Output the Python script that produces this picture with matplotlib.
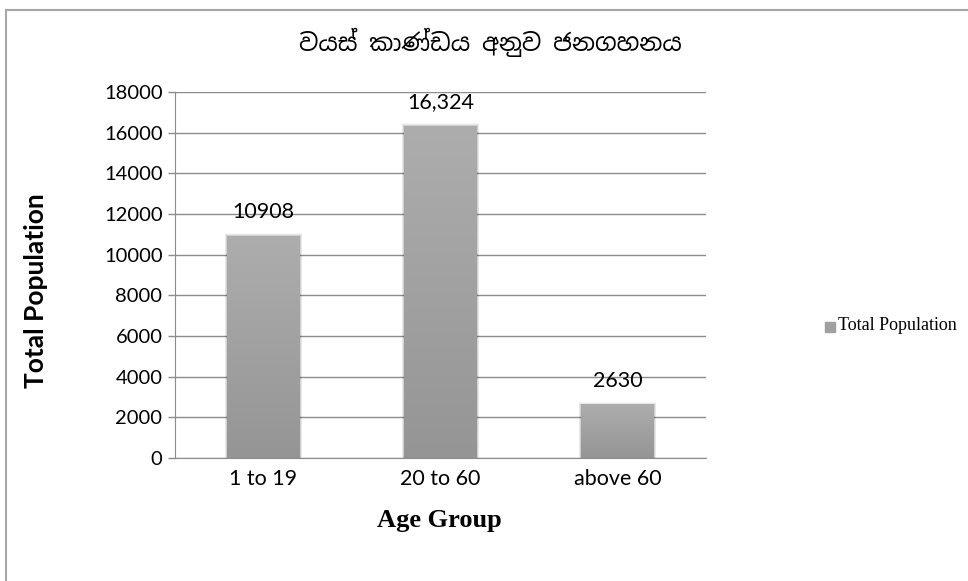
import numpy as np
import matplotlib
matplotlib.use('Agg')
import matplotlib.pyplot as plt
from matplotlib import font_manager
from matplotlib.patches import Rectangle
from matplotlib.colors import LinearSegmentedColormap

categories = ['1 to 19', '20 to 60', 'above 60']
population = [10908, 16324, 2630]
bar_labels = ['10908', '16,324', '2630']
title = 'වයස් කාණ්ඩය අනුව ජනගහනය'

sinhala = [f.name for f in font_manager.fontManager.ttflist if 'Sinhala' in f.name]
title_family = sinhala[:1] + ['DejaVu Sans']

fig = plt.figure(figsize=(9.68, 5.81), dpi=100)
ax = fig.add_axes([175 / 968, 1 - 458 / 581, 531 / 968, 366 / 581])

x = np.arange(len(categories))
width = 0.41
bars = ax.bar(x, population, width=width, color='none', zorder=3)

# vertical gradient fill, light on top, soft shadow round it
grad = np.linspace(0, 1, 256).reshape(-1, 1)
cmap = LinearSegmentedColormap.from_list('g', ['#959595', '#adadad'])
for b in bars:
    x0, y0 = b.get_x(), b.get_y()
    w, h = b.get_width(), b.get_height()
    for k, a in enumerate([0.10, 0.06, 0.03]):
        ax.add_patch(Rectangle((x0 - 0.005 * (k + 1), y0), w + 0.01 * (k + 1), h + 45 * (k + 1),
                               color='black', alpha=a, lw=0, zorder=2.5))
    ax.imshow(grad, extent=(x0, x0 + w, y0, y0 + h), aspect='auto', origin='lower',
              cmap=cmap, zorder=3, interpolation='bilinear')

for xi, v, lab in zip(x, population, bar_labels):
    ax.annotate(lab, (xi, v), xytext=(0, 10), textcoords='offset points',
                ha='center', va='bottom', fontsize=15.5, family='Lato')

ax.set_xlim(-0.5, 2.5)
ax.set_ylim(0, 18000)
ax.set_yticks(np.arange(0, 18001, 2000))
ax.set_xticks(x)
ax.set_xticklabels(categories)
ax.tick_params(axis='x', length=0, pad=8, labelsize=15.5)
ax.tick_params(axis='y', length=5, width=1, color='#8c8c8c', pad=4, labelsize=14.5)
for lab in ax.get_xticklabels() + ax.get_yticklabels():
    lab.set_family('Lato')

ax.grid(axis='y', color='#8c8c8c', lw=1, zorder=0)
ax.set_axisbelow(True)
for s in ['top', 'right']:
    ax.spines[s].set_visible(False)
ax.spines['left'].set_color('#8c8c8c')
ax.spines['bottom'].set_color('#8c8c8c')

ax.set_ylabel('Total Population', fontsize=19, fontweight='bold', family='Lato',
              va='center')
ax.yaxis.set_label_coords((36 - 175) / 531, 0.5 - (291 - 275) / 366)
ax.set_xlabel('Age Group', fontsize=19, fontweight='bold', family='Liberation Serif',
              va='center')
ax.xaxis.set_label_coords((439 - 175) / 531, (458 - 520) / 366)

fig.text(490 / 968, 1 - 42 / 581, title, ha='center', va='center', fontsize=17.2,
         family=title_family)

# legend
fig.patches.append(Rectangle((825 / 968, 1 - 332 / 581), 10 / 968, 10 / 581,
                             transform=fig.transFigure, color='#a0a0a0'))
fig.text(838 / 968, 1 - 326 / 581, 'Total Population', ha='left', va='center',
         fontsize=13, family='Liberation Serif')

# outer chart frame
fig.patches.append(Rectangle((6 / 968, -0.1), 1.2, 1.1 - 10 / 581, transform=fig.transFigure,
                             fill=False, ec='#a6a6a6', lw=1.5))

fig.savefig('out.png', dpi=100, facecolor='white')
